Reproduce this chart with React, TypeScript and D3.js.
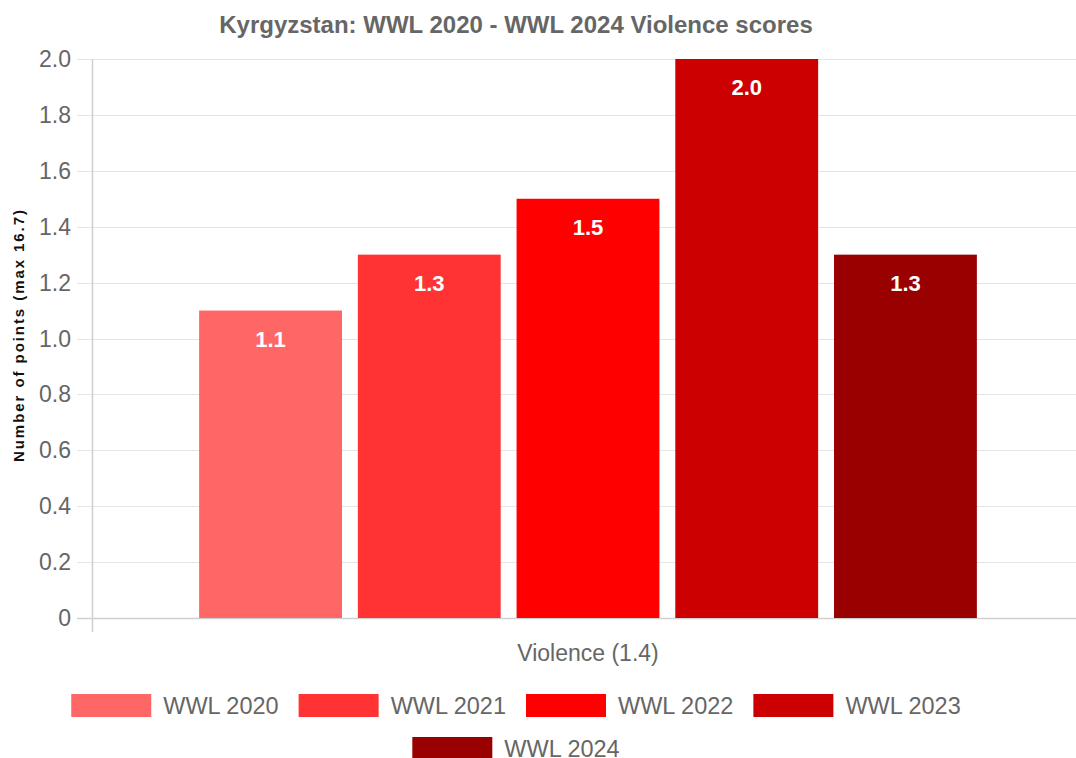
import React, { useEffect, useRef } from 'react';
import * as d3 from 'd3';

// Chart values
const categories = ['Violence (1.4)'];
const seriesNames = ['WWL 2020', 'WWL 2021', 'WWL 2022', 'WWL 2023', 'WWL 2024'];
const seriesValues = [1.1, 1.3, 1.5, 2.0, 1.3];
const seriesColors = ['#ff6666', '#ff3333', '#ff0000', '#cc0000', '#990000'];
const yTicks = [0, 0.2, 0.4, 0.6, 0.8, 1.0, 1.2, 1.4, 1.6, 1.8, 2.0];

const WIDTH = 1076;
const HEIGHT = 758;
const FONT = 'Liberation Sans, Arial, Helvetica, sans-serif';

export default function App() {
  const svgRef = useRef<SVGSVGElement>(null);

  useEffect(() => {
    if (!svgRef.current) return;
    const svg = d3.select(svgRef.current);
    svg.selectAll('*').remove();

    const plot = { left: 92, right: 1084, top: 59, bottom: 618 };

    const y = d3.scaleLinear().domain([0, 2]).range([plot.bottom, plot.top]);
    const x0 = d3.scaleBand().domain(categories).range([plot.left, plot.right]).padding(0);
    // 80% of the category for the group, 90% of each slot for the bar
    const bw = x0.bandwidth();
    const x1 = d3.scaleBand()
      .domain(seriesNames)
      .range([bw * 0.1, bw * 0.9])
      .paddingInner(0.1)
      .paddingOuter(0.05);

    // title
    svg.append('text')
      .attr('x', 516)
      .attr('y', 33)
      .attr('text-anchor', 'middle')
      .attr('font-family', FONT)
      .attr('font-size', 24)
      .attr('font-weight', 'bold')
      .attr('fill', '#666')
      .text('Kyrgyzstan: WWL 2020 - WWL 2024 Violence scores');

    // grid lines
    const grid = svg.append('g');
    yTicks.forEach(t => {
      grid.append('line')
        .attr('x1', 77)
        .attr('x2', WIDTH)
        .attr('y1', Math.round(y(t)) + 0.5)
        .attr('y2', Math.round(y(t)) + 0.5)
        .attr('stroke', t === 0 ? '#d0d0d0' : '#e5e5e5')
        .attr('stroke-width', t === 0 ? 1.5 : 1.2);
    });
    grid.append('line')
      .attr('x1', plot.left + 0.5)
      .attr('x2', plot.left + 0.5)
      .attr('y1', plot.top)
      .attr('y2', plot.bottom + 14)
      .attr('stroke', '#d0d0d0')
      .attr('stroke-width', 1.5);

    // y tick labels
    svg.append('g')
      .selectAll('text')
      .data(yTicks)
      .join('text')
      .attr('x', 71)
      .attr('y', d => y(d) + 8)
      .attr('text-anchor', 'end')
      .attr('font-family', FONT)
      .attr('font-size', 23)
      .attr('fill', '#666')
      .text(d => (d === 0 ? '0' : d3.format('.1f')(d)));

    // y axis title
    svg.append('text')
      .attr('transform', `translate(24, 336) rotate(-90)`)
      .attr('text-anchor', 'middle')
      .attr('font-family', FONT)
      .attr('font-size', 15)
      .attr('font-weight', 'bold')
      .attr('fill', '#111')
      .attr('textLength', 252)
      .attr('lengthAdjust', 'spacing')
      .text('Number of points (max 16.7)');

    // bars
    const catX = x0(categories[0]) || 0;
    const bars = svg.append('g');
    seriesNames.forEach((name, i) => {
      const bx = catX + (x1(name) || 0);
      const v = seriesValues[i];
      bars.append('rect')
        .attr('x', bx)
        .attr('y', y(v))
        .attr('width', x1.bandwidth())
        .attr('height', y(0) - y(v))
        .attr('fill', seriesColors[i]);
      bars.append('text')
        .attr('x', bx + x1.bandwidth() / 2)
        .attr('y', y(v) + 36)
        .attr('text-anchor', 'middle')
        .attr('font-family', FONT)
        .attr('font-size', 22)
        .attr('font-weight', 'bold')
        .attr('fill', '#fff')
        .text(d3.format('.1f')(v));
    });

    // x category label
    svg.append('text')
      .attr('x', catX + bw / 2)
      .attr('y', 661)
      .attr('text-anchor', 'middle')
      .attr('font-family', FONT)
      .attr('font-size', 23)
      .attr('fill', '#666')
      .text(categories[0]);

    // legend
    const boxW = 80;
    const boxH = 23;
    const textGap = 12;
    const itemGap = 20;
    const rows: number[][] = [[0, 1, 2, 3], [4]];
    const rowTops = [694, 737];
    const legend = svg.append('g');
    rows.forEach((row, ri) => {
      const items = row.map(i => {
        const g = legend.append('g');
        g.append('rect')
          .attr('width', boxW)
          .attr('height', boxH)
          .attr('fill', seriesColors[i]);
        const t = g.append('text')
          .attr('x', boxW + textGap)
          .attr('y', boxH / 2 + 8)
          .attr('font-family', FONT)
          .attr('font-size', 23.5)
          .attr('fill', '#666')
          .text(seriesNames[i]);
        const w = boxW + textGap + (t.node() as SVGTextElement).getComputedTextLength();
        return { g, w };
      });
      const total = d3.sum(items, d => d.w) + itemGap * (items.length - 1);
      let cx = 516 - total / 2;
      items.forEach(it => {
        it.g.attr('transform', `translate(${cx}, ${rowTops[ri]})`);
        cx += it.w + itemGap;
      });
    });
  }, []);

  return (
    <svg
      ref={svgRef}
      width={WIDTH}
      height={HEIGHT}
      style={{ position: 'absolute', left: 0, top: 0, display: 'block', background: '#fff' }}
    />
  );
}
